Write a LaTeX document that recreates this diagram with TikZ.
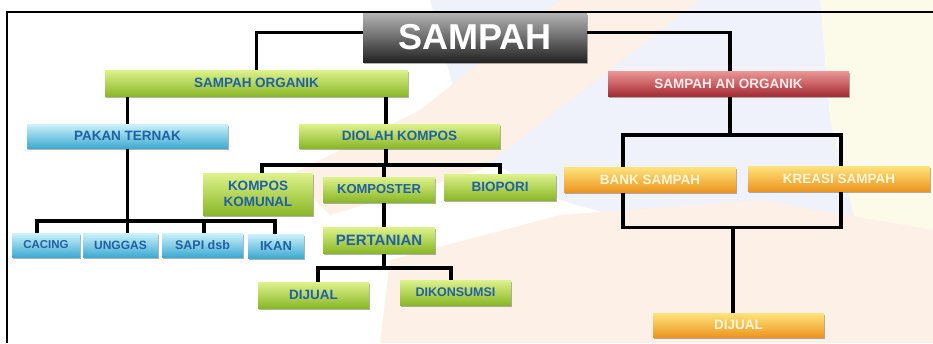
\documentclass[tikz,border=0pt]{standalone}
\usepackage{fontspec}
\setmainfont{Liberation Sans}
\usetikzlibrary{shadows}
\pgfdeclarelayer{back}
\pgfdeclarelayer{lines}
\pgfsetlayers{back,lines,main}
\definecolor{blueT}{RGB}{32,96,164}
\definecolor{gTop}{RGB}{222,242,140}
\definecolor{gMid}{RGB}{186,220,82}
\definecolor{gBot}{RGB}{138,184,40}
\definecolor{cTop}{RGB}{205,242,250}
\definecolor{cMid}{RGB}{125,212,236}
\definecolor{cBot}{RGB}{62,170,210}
\definecolor{rTop}{RGB}{236,150,150}
\definecolor{rMid}{RGB}{205,82,88}
\definecolor{rBot}{RGB}{165,45,52}
\definecolor{oTop}{RGB}{255,228,125}
\definecolor{oMid}{RGB}{250,192,62}
\definecolor{oBot}{RGB}{236,150,32}
\definecolor{kTop}{RGB}{180,180,180}
\definecolor{kMid}{RGB}{95,95,95}
\definecolor{kBot}{RGB}{35,35,35}
\definecolor{wmBlue}{RGB}{239,241,251}
\definecolor{wmPeach}{RGB}{252,240,231}
\definecolor{wmYel}{RGB}{252,251,234}
\definecolor{rText}{RGB}{255,236,236}
\definecolor{oText}{RGB}{255,246,218}
\begin{document}
\begin{tikzpicture}[x=1pt,y=-1pt,
  box/.style={rectangle, inner sep=0pt, draw=none,
    font=\bfseries\fontsize{13.5}{16}\selectfont,
    drop shadow={shadow xshift=1.2pt,shadow yshift=-1.6pt,opacity=0.3,fill=black}},
  gbox/.style={box, top color=gTop, middle color=gMid, bottom color=gBot, text=blueT},
  cbox/.style={box, top color=cTop, middle color=cMid, bottom color=cBot, text=blueT},
  rbox/.style={box, top color=rTop, middle color=rMid, bottom color=rBot, text=rText},
  obox/.style={box, top color=oTop, middle color=oMid, bottom color=oBot, text=oText},
  kbox/.style={box, top color=kTop, middle color=kMid, bottom color=kBot, text=white,
    font=\bfseries\fontsize{36}{40}\selectfont},
  conn/.style={line width=3.2pt, draw=black}]
\useasboundingbox (0,0) rectangle (933,343);
\begin{pgfonlayer}{back}
\fill[white] (0,0) rectangle (933,343);
\fill[wmBlue] (430,0) -- (933,0) -- (933,170) -- (840,230) -- (700,240) -- (560,200) -- (470,150) -- cycle;
\fill[wmYel] (820,0) -- (933,0) -- (933,300) -- (860,240) -- (830,120) -- cycle;
\fill[wmPeach] (560,0) -- (700,0) -- (480,170) -- (330,215) -- (290,175) -- (420,110) -- cycle;
\fill[wmPeach] (380,343) -- (390,260) -- (560,215) -- (760,200) -- (933,230) -- (933,343) -- cycle;
\end{pgfonlayer}
% nodes
\node[kbox, minimum width=224, minimum height=49] (sampah) at (475,37.5) {SAMPAH};
\node[gbox, minimum width=303, minimum height=26] (org) at (256.5,83) {SAMPAH ORGANIK};
\node[rbox, minimum width=241, minimum height=25] (anorg) at (728.5,83.5) {SAMPAH AN ORGANIK};
\node[cbox, minimum width=201, minimum height=24] (pakan) at (127.5,136) {PAKAN TERNAK};
\node[gbox, minimum width=201, minimum height=24] (diolah) at (399.5,136) {DIOLAH KOMPOS};
\node[gbox, minimum width=110, minimum height=42, align=center] (komunal) at (258,194) {KOMPOS\\KOMUNAL};
\node[gbox, minimum width=112, minimum height=25, font=\bfseries\fontsize{13}{15}\selectfont] (komposter) at (379,189.5) {KOMPOSTER};
\node[gbox, minimum width=112, minimum height=26] (biopori) at (500,187) {BIOPORI};
\node[gbox, minimum width=112, minimum height=26, font=\bfseries\fontsize{15}{17}\selectfont] (pertanian) at (379,240) {PERTANIAN};
\node[gbox, minimum width=111, minimum height=26] (dijualA) at (313.5,295) {DIJUAL};
\node[gbox, minimum width=111, minimum height=25, font=\bfseries\fontsize{12.5}{15}\selectfont] (dikons) at (455.5,292.5) {DIKONSUMSI};
\node[cbox, minimum width=68, minimum height=24, font=\bfseries\fontsize{11.5}{14}\selectfont] (cacing) at (46,245) {CACING};
\node[cbox, minimum width=75, minimum height=24, font=\bfseries\fontsize{12}{14}\selectfont] (unggas) at (120.5,245) {UNGGAS};
\node[cbox, minimum width=81, minimum height=24, font=\bfseries\fontsize{12.5}{14}\selectfont] (sapi) at (202.5,245) {SAPI dsb};
\node[cbox, minimum width=56, minimum height=24, font=\bfseries\fontsize{13}{14}\selectfont] (ikan) at (276,246) {IKAN};
\node[obox, minimum width=172, minimum height=25] (bank) at (650,179.5) {BANK SAMPAH};
\node[obox, minimum width=182, minimum height=25] (kreasi) at (839,178.5) {KREASI SAMPAH};
\node[obox, minimum width=171, minimum height=24] (dijualB) at (738.5,325) {DIJUAL};
% connectors
\begin{pgfonlayer}{lines}
\draw[conn] ([yshift=5pt]sampah.west) -| (org.north);
\draw[conn] ([yshift=5pt]sampah.east) -| ([xshift=1.5pt]anorg.north);
\draw[conn] (pakan.north) -- (pakan.north |- org.south);
\draw[conn] ([xshift=-13.5pt]diolah.north) -- ([xshift=-13.5pt]diolah.north |- org.south);
% pakan ternak branch
\coordinate (pb) at (127.5,221);
\draw[conn] (pakan.south) -- (pakan.south |- unggas.north);
\draw[conn] ([xshift=-9pt]cacing.north) |- (pb) -| ([xshift=-1pt]ikan.north);
\draw[conn] ([xshift=1.5pt]sapi.north) -- ([xshift=1.5pt]sapi.north |- pb);
% diolah kompos branch
\coordinate (db) at (386,165);
\draw[conn] ([xshift=-13.5pt]diolah.south) -- (db);
\draw[conn] ([xshift=4pt]komunal.north) |- (db) -| (biopori.north);
\draw[conn] ([xshift=5pt]komposter.north) -- ([xshift=5pt]komposter.north |- db);
\draw[conn] ([xshift=5pt]komposter.south) -- ([xshift=5pt]pertanian.north);
% pertanian branch
\coordinate (pt) at (384,268);
\draw[conn] ([xshift=5pt]pertanian.south) -- (pt);
\draw[conn] ([xshift=4.5pt]dijualA.north) |- (pt) -| ([xshift=-4.5pt]dikons.north);
% an organik branch
\coordinate (ab) at (730,135);
\draw[conn] ([xshift=1.5pt]anorg.south) -- (ab);
\draw[conn] ([xshift=-27pt]bank.north) |- (ab) -| ([xshift=2pt]kreasi.north);
\draw[conn] ([xshift=-27pt]bank.north) -- ++(0,61) -| ([xshift=2pt]kreasi.north);
\draw[conn] ([xshift=-5.5pt]dijualB.north) -- ++(0,-85);
% frame
\draw[line width=2.8pt] (933,12) -- (7,12) -- (7,343);
\end{pgfonlayer}
\end{tikzpicture}
\end{document}
